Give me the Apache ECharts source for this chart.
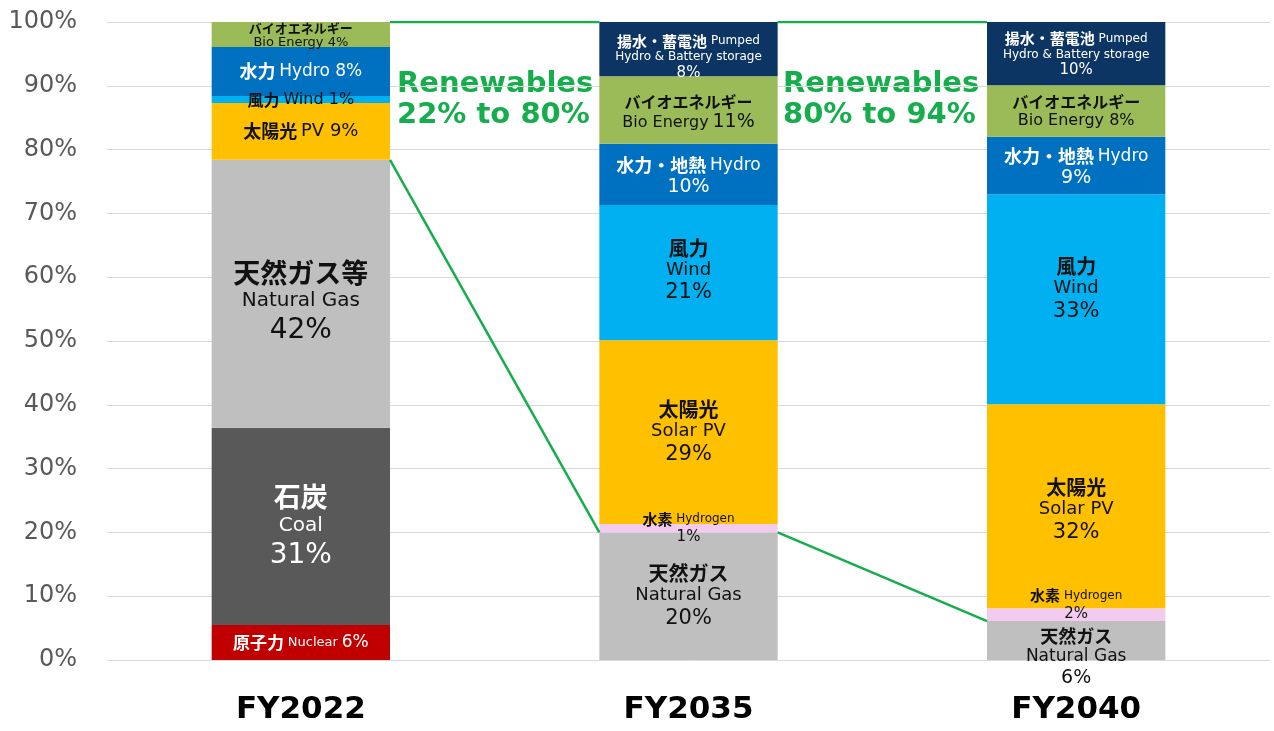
<!DOCTYPE html>
<html>
<head>
<meta charset="utf-8">
<script src="https://cdn.jsdelivr.net/npm/echarts@6/dist/echarts.min.js"></script>
<style>
  html, body { margin: 0; padding: 0; background: #fff; }
  #main { width: 1274px; height: 731px; }
</style>
</head>
<body>
<div id="main"></div>
<script>
var categories = ['FY2022', 'FY2035', 'FY2040'];

// segment heights in %
var nuclear  = [5.5, 0, 0];
var coal     = [30.9, 0, 0];
var gas      = [42.0, 20.0, 6.1];
var hydrogen = [0, 1.3, 2.0];
var solar    = [8.9, 28.8, 32.0];
var wind     = [1.1, 21.2, 32.9];
var hydro    = [7.7, 9.6, 9.0];
var bio      = [3.9, 10.6, 8.1];
var pumped   = [0, 8.5, 9.9];

// label texts
var nuclearLabels  = ['{j17|原子力} {e13|Nuclear} {e17|6%}', '', ''];
var coalLabels     = ['{j27|石炭}\n{e20|Coal}\n{e28|31%}', '', ''];
var gasLabels      = ['{j27|天然ガス等}\n{e20|Natural Gas}\n{e28|42%}', '{j20|天然ガス}\n{e18|Natural Gas}\n{e21|20%}', '{j18|天然ガス}\n{e17|Natural Gas}\n{e19|6%}'];
var hydrogenLabels = ['', '{j15|水素} {e12|Hydrogen}\n{e15|1%}', '{j15|水素} {e12|Hydrogen}\n{e15|2%}'];
var solarLabels    = ['{j18|太陽光} {e18|PV 9%}', '{j20|太陽光}\n{e18|Solar PV}\n{e21|29%}', '{j20|太陽光}\n{e18|Solar PV}\n{e21|32%}'];
var windLabels     = ['{j16|風力} {e16|Wind 1%}', '{j20|風力}\n{e18|Wind}\n{e21|21%}', '{j20|風力}\n{e18|Wind}\n{e21|33%}'];
var hydroLabels    = ['{j18|水力} {e17|Hydro 8%}', '{j18|水力・地熱} {e17|Hydro}\n{e19|10%}', '{j18|水力・地熱} {e17|Hydro}\n{e19|9%}'];
var bioLabels      = ['{j13|バイオエネルギー}\n{e13|Bio Energy 4%}', '{j16|バイオエネルギー}\n{e16|Bio Energy} {e19|11%}', '{j16|バイオエネルギー}\n{e16|Bio Energy 8%}'];
var pumpedLabels   = ['', '{j15|揚水・蓄電池} {e12|Pumped}\n{e12|Hydro & Battery storage}\n{e15|8%}', '{j15|揚水・蓄電池} {e12|Pumped}\n{e12|Hydro & Battery storage}\n{e15|10%}'];

var renewTexts = ['Renewables\n22% to 80%', 'Renewables\n80% to 94%'];

var CJK = '"Noto Sans CJK JP", "Noto Sans CJK SC", sans-serif';
var LAT = '"DejaVu Sans", "Noto Sans CJK JP", sans-serif';
var GREEN = '#16ad4c';
var BAR_W = 0.46;

var rich = {};
[12, 13, 15, 16, 17, 18, 19, 20, 21, 27, 28].forEach(function (s) {
    var lh = Math.round(s * (s > 24 ? 1.05 : 1.1) + (s > 24 ? 3 : 1));
    rich['j' + s] = { fontFamily: CJK, fontWeight: 'bold', fontSize: s, lineHeight: lh };
    rich['e' + s] = { fontFamily: LAT, fontSize: s, lineHeight: lh };
});
rich.e20.lineHeight = 27;

var defs = [
    { name: 'Nuclear', data: nuclear, labels: nuclearLabels, color: '#c00000', text: '#fff' },
    { name: 'Coal', data: coal, labels: coalLabels, color: '#595959', text: '#fff' },
    { name: 'Natural Gas', data: gas, labels: gasLabels, color: '#bfbfbf', text: '#111', offset: [8, 0, 17] },
    { name: 'Hydrogen', data: hydrogen, labels: hydrogenLabels, color: '#f2cbee', text: '#111', offset: [0, 0, -10] },
    { name: 'Solar PV', data: solar, labels: solarLabels, color: '#ffc000', text: '#111', offset: [0, 0, 4] },
    { name: 'Wind', data: wind, labels: windLabels, color: '#00b0f0', text: '#111', offset: [0, -2, -10] },
    { name: 'Hydro', data: hydro, labels: hydroLabels, color: '#0070c0', text: '#fff', offset: [0, 2, 2] },
    { name: 'Bio Energy', data: bio, labels: bioLabels, color: '#9bbb59', text: '#111', offset: [1, 3, 0] },
    { name: 'Pumped Hydro & Battery', data: pumped, labels: pumpedLabels, color: '#0d3563', text: '#fff', offset: [0, 8, 1] }
];

var series = defs.map(function (d) {
    return {
        name: d.name,
        type: 'bar',
        stack: 'total',
        barWidth: (BAR_W * 100) + '%',
        itemStyle: { color: d.color },
        emphasis: { disabled: true },
        label: {
            show: true,
            position: 'inside',
            color: d.text,
            fontFamily: LAT,
            align: 'center',
            rich: rich,
            formatter: function (p) { return d.labels[p.dataIndex]; }
        },
        data: d.data.map(function (v, i) {
            var item = { value: v };
            if (!d.labels[i]) item.label = { show: false };
            else if (d.offset && d.offset[i]) item.label = { offset: [0, d.offset[i]] };
            return item;
        })
    };
});

// renewables connectors: top at 100%, bottom at non-renewable base (nuclear + coal + gas)
var base = categories.map(function (c, i) { return nuclear[i] + coal[i] + gas[i]; });
var hw = BAR_W / 2;
for (var i = 0; i < categories.length - 1; i++) {
    [[[i + hw, 100], [i + 1 - hw, 100]], [[i + hw, base[i]], [i + 1 - hw, base[i + 1]]]].forEach(function (pts) {
        series.push({
            type: 'line',
            xAxisIndex: 1,
            yAxisIndex: 0,
            data: pts,
            symbol: 'none',
            silent: true,
            lineStyle: { color: GREEN, width: 2.5 },
            z: 5
        });
    });
}

var chart = echarts.init(document.getElementById('main'));
chart.setOption({
    backgroundColor: '#fff',
    animation: false,
    grid: { left: 107, right: 4, top: 22, bottom: 71 },
    xAxis: [
        {
            type: 'category',
            data: categories,
            axisLine: { show: false },
            axisTick: { show: false },
            axisLabel: {
                color: '#000',
                fontFamily: LAT,
                fontWeight: 'bold',
                fontSize: 31,
                margin: 34
            }
        },
        { type: 'value', min: -0.5, max: 2.5, show: false }
    ],
    yAxis: {
        type: 'value',
        min: 0,
        max: 100,
        interval: 10,
        axisLine: { show: false },
        axisTick: { show: false },
        axisLabel: {
            formatter: '{value}%',
            color: '#595959',
            fontFamily: LAT,
            fontSize: 24,
            margin: 30
        },
        splitLine: { lineStyle: { color: '#d9d9d9', width: 1 } }
    },
    graphic: renewTexts.map(function (t, k) {
        return {
            type: 'text',
            left: [397, 783][k],
            top: 69,
            style: {
                text: t,
                fill: GREEN,
                font: 'bold 29px "DejaVu Sans"',
                lineHeight: 31
            }
        };
    }),
    series: series
});
</script>
</body>
</html>
